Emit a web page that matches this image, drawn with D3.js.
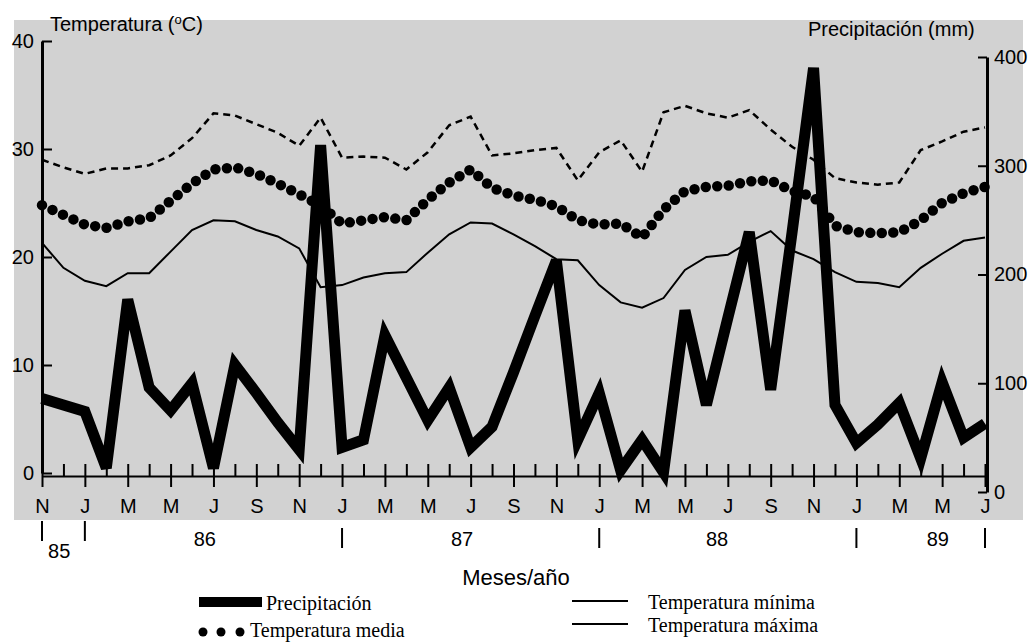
<!DOCTYPE html>
<html><head><meta charset="utf-8">
<script src="https://cdn.jsdelivr.net/npm/d3@7"></script>
<style>
body{margin:0;background:#fff}
svg text{fill:#000}
</style>
</head><body>
<svg id="c" width="1032" height="643"></svg>
<script>
// ---- data ----
const monthLetters = ["N","D","J","F","M","A","M","J","J","A","S","O",
  "N","D","J","F","M","A","M","J","J","A","S","O",
  "N","D","J","F","M","A","M","J","J","A","S","O",
  "N","D","J","F","M","A","M","J","J"];
const precipitation = [86,80,74,22,177,96,75,100,22,117,91,64,39,319,41,48,144,105,66,96,41,60,110,162,213,48,91,20,48,18,167,80,160,239,94,239,390,80,45,62,82,31,101,50,63];
const tempMedia = [24.8,23.9,23.0,22.7,23.3,23.6,25.2,26.8,28.1,28.3,27.7,26.8,25.8,24.8,23.1,23.4,23.7,23.4,25.3,26.9,28.1,26.4,25.7,25.3,24.7,23.4,23.0,23.1,21.8,24.4,26.1,26.5,26.6,27.0,27.1,26.1,25.6,22.9,22.3,22.2,22.3,23.4,25.0,25.9,26.5];
const tempMin = [21.3,19.0,17.8,17.3,18.5,18.5,20.5,22.5,23.4,23.3,22.5,21.9,20.8,17.2,17.4,18.1,18.5,18.6,20.4,22.1,23.2,23.1,22.1,21.0,19.8,19.7,17.4,15.8,15.3,16.2,18.8,20.0,20.2,21.4,22.4,20.6,19.8,18.6,17.7,17.6,17.2,19.0,20.3,21.5,21.8];
const tempMax = [29.0,28.3,27.7,28.2,28.2,28.5,29.4,31.0,33.3,33.1,32.3,31.5,30.3,32.9,29.2,29.3,29.2,28.1,29.7,32.2,33.0,29.4,29.6,29.9,30.1,27.1,29.7,30.8,27.9,33.4,34.0,33.3,32.9,33.6,31.8,30.2,29.0,27.3,26.9,26.7,26.9,29.9,30.7,31.6,32.0];
const tempTicks = [0,10,20,30,40];
const precipTicks = [0,100,200,300,400];
const yearLabels = ["85","86","87","88","89"];
const yearLabelPos = [0.8,7.6,19.6,31.5,41.8];
const yearBreaks = [0,2,14,26,38,44];

// ---- chart ----
const sans = "Liberation Sans, Arial, sans-serif";
const serif = "Liberation Serif, Times New Roman, serif";
const svg = d3.select("#c").style("font-family", sans);
const x = d3.scaleLinear().domain([0,44]).range([42,985]);
const yT = d3.scaleLinear().domain([0,40]).range([473,41]);
const yP = d3.scaleLinear().domain([0,400]).range([492,57]);

svg.append("rect").attr("x",14).attr("y",20).attr("width",1009).attr("height",500).attr("fill","#d2d2d2");

// x axis
const xAxis = d3.axisBottom(x).tickValues(d3.range(45)).tickSizeOuter(0)
  .tickFormat((d)=> d%2===0 ? monthLetters[d] : "");
const gx = svg.append("g").attr("transform","translate(0,476)").call(xAxis);
gx.select(".domain").attr("stroke","#000").attr("stroke-width",2);
gx.selectAll(".tick line").attr("stroke","#000").attr("stroke-width",2)
  .attr("y1",-12).attr("y2",d=> d%2===0 ? 11 : 0);
gx.selectAll(".tick text").attr("y",37).attr("dy",null).attr("font-size",20)
  .attr("font-family",sans).attr("fill","#000");

// left axis
const gl = svg.append("g").attr("transform","translate(42,0)")
  .call(d3.axisLeft(yT).tickValues(tempTicks).tickSize(-10).tickSizeOuter(0).tickPadding(8));
gl.select(".domain").attr("stroke","#000").attr("stroke-width",3);
gl.selectAll(".tick line").attr("stroke","#000").attr("stroke-width",2);
gl.selectAll(".tick text").attr("font-size",20).attr("font-family",sans).attr("fill","#000");

// right axis
const gr = svg.append("g").attr("transform","translate(987,0)")
  .call(d3.axisRight(yP).tickValues(precipTicks).tickSize(-9).tickSizeOuter(0).tickPadding(7));
gr.select(".domain").attr("stroke","#000").attr("stroke-width",3);
gr.selectAll(".tick line").attr("stroke","#000").attr("stroke-width",2);
gr.selectAll(".tick text").attr("font-size",20).attr("font-family",sans).attr("fill","#000");

// series
const lineT = d3.line().x((d,i)=>x(i)).y(d=>yT(d));
const lineP = d3.line().x((d,i)=>x(i)).y(d=>yP(d));

svg.append("path").datum(tempMax).attr("d",lineT).attr("fill","none")
  .attr("stroke","#000").attr("stroke-width",2.5).attr("stroke-dasharray","7 5");
svg.append("path").datum(tempMin).attr("d",lineT).attr("fill","none")
  .attr("stroke","#000").attr("stroke-width",2);
svg.append("path").datum(tempMedia).attr("d",lineT).attr("fill","none")
  .attr("stroke","#000").attr("stroke-width",10.5).attr("stroke-linecap","round")
  .attr("stroke-dasharray","0 11.5");
svg.append("path").datum(precipitation).attr("d",lineP).attr("fill","none")
  .attr("stroke","#000").attr("stroke-width",11).attr("stroke-linejoin","miter");

// titles
const tl = svg.append("text").attr("x",50).attr("y",31).attr("font-size",20).attr("font-family",sans);
tl.append("tspan").text("Temperatura (");
tl.append("tspan").attr("font-size",13).attr("dy",-7).text("o");
tl.append("tspan").attr("dy",7).text("C)");
svg.append("text").attr("x",808).attr("y",36).attr("font-size",20).attr("font-family",sans).text("Precipitación (mm)");

// year row
svg.append("g").selectAll("line").data(yearBreaks).join("line")
  .attr("x1",d=>x(d)).attr("x2",d=>x(d))
  .attr("y1",(d,i)=> i<2 ? 521 : 528).attr("y2",(d,i)=> i<2 ? 541 : 548)
  .attr("stroke","#000").attr("stroke-width",2);
svg.append("g").selectAll("text").data(yearLabels).join("text")
  .attr("x",(d,i)=>x(yearLabelPos[i])).attr("y",(d,i)=> i===0 ? 558 : 546)
  .attr("text-anchor","middle").attr("font-size",20).attr("font-family",sans).text(d=>d);

svg.append("text").attr("x",516).attr("y",585).attr("text-anchor","middle")
  .attr("font-size",22).attr("font-family",sans).text("Meses/año");

// legend
svg.append("rect").attr("x",199).attr("y",597).attr("width",63).attr("height",10).attr("fill","#000");
svg.append("text").attr("x",266).attr("y",610).attr("font-family",serif).attr("font-size",20).text("Precipitación");
svg.append("g").selectAll("circle").data([203,221,240]).join("circle")
  .attr("cx",d=>d).attr("cy",632).attr("r",4.5).attr("fill","#000");
svg.append("text").attr("x",250).attr("y",637).attr("font-family",serif).attr("font-size",20).text("Temperatura media");
svg.append("line").attr("x1",572).attr("x2",628).attr("y1",601).attr("y2",601).attr("stroke","#000").attr("stroke-width",2);
svg.append("text").attr("x",648).attr("y",609).attr("font-family",serif).attr("font-size",20).text("Temperatura mínima");
svg.append("line").attr("x1",572).attr("x2",628).attr("y1",624).attr("y2",624).attr("stroke","#000").attr("stroke-width",2);
svg.append("text").attr("x",648).attr("y",632).attr("font-family",serif).attr("font-size",20).text("Temperatura máxima");
</script>
</body></html>
